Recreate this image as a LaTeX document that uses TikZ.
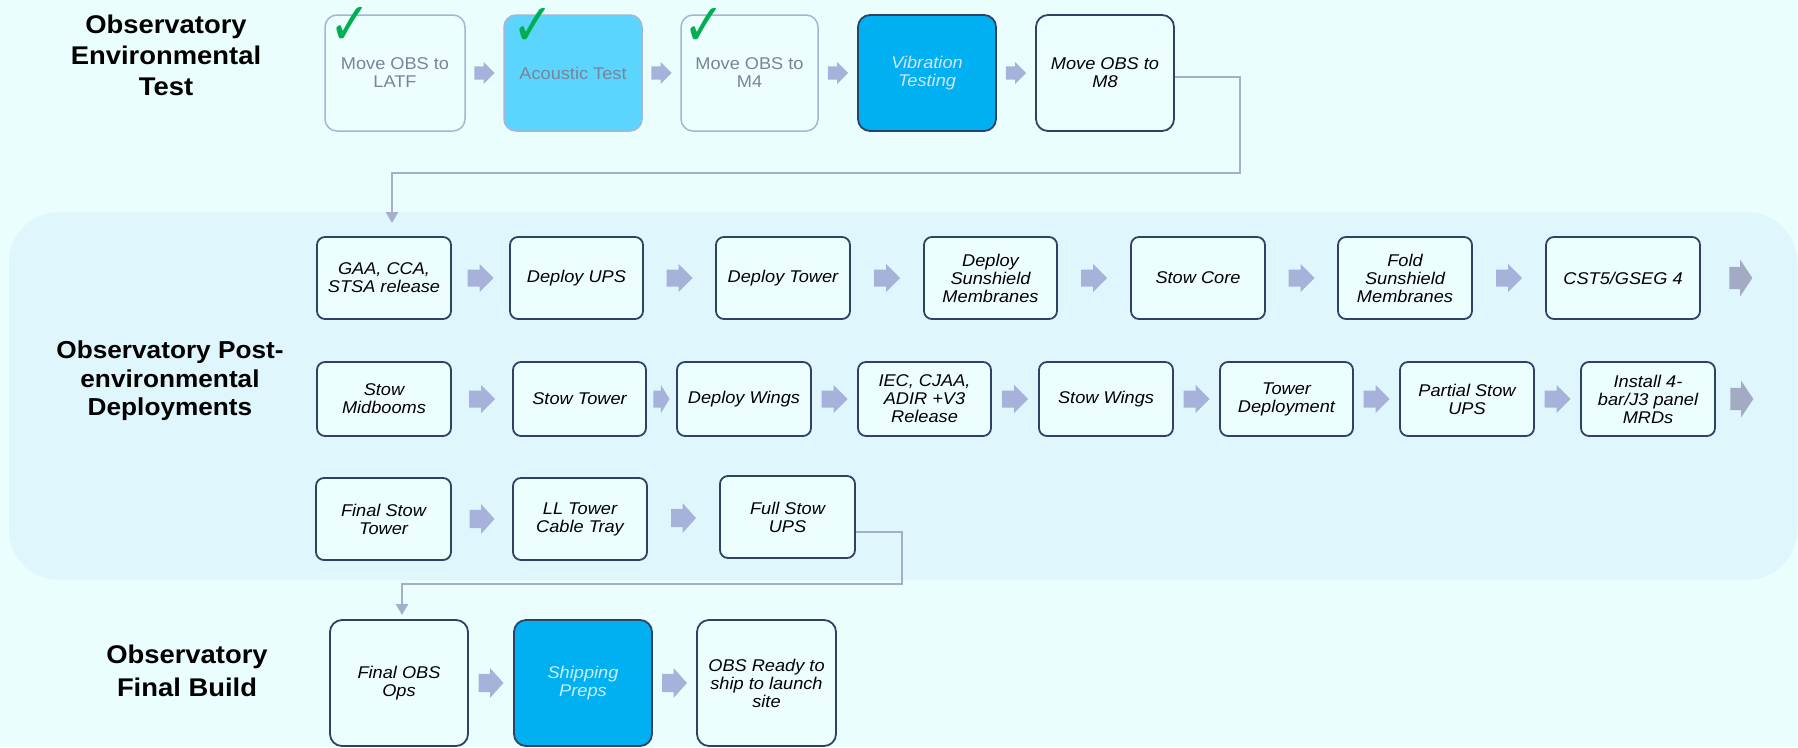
\documentclass[tikz,border=0pt]{standalone}
\usepackage{fontspec}
\setmainfont{Liberation Sans}[FakeStretch=1.07]
\newfontfamily\checkfont{DejaVu Sans}
\usetikzlibrary{arrows.meta,calc}
\definecolor{bgc}{HTML}{EBFEFE}
\definecolor{panelc}{HTML}{E0F6FD}
\definecolor{boxfill}{HTML}{EDFEFF}
\definecolor{darkb}{HTML}{2E4267}
\definecolor{lightb}{HTML}{A6B4D6}
\definecolor{acouc}{HTML}{5CD5FE}
\definecolor{vibc}{HTML}{00B0F0}
\definecolor{arrowc}{HTML}{A6B2D9}
\definecolor{arrowdk}{HTML}{A2AAC4}
\definecolor{connc}{HTML}{A3AFCB}
\definecolor{greyt}{HTML}{78849A}
\definecolor{vibt}{HTML}{D3E4F7}
\definecolor{shipt}{HTML}{CBEFFF}
\definecolor{checkc}{HTML}{00B050}
\newcommand\boxfont{\fontsize{17}{18}\selectfont}
\newcommand\mybox[6]{\node[#1, minimum width=#4pt, minimum height=#5pt] (#2) at (#3) {#6};}
\tikzset{
  box/.style={rectangle, rounded corners=8pt, draw=darkb, line width=1.8pt, fill=boxfill,
    align=center, font=\boxfont\itshape, inner sep=2pt, text=black},
  donebox/.style={rectangle, rounded corners=12pt, draw=lightb, line width=1.5pt, fill=boxfill,
    align=center, font=\boxfont, inner sep=2pt, text=greyt},
  title/.style={align=center, font=\fontsize{25.6}{31}\selectfont\bfseries, text=black, inner sep=0pt},
  conn/.style={draw=connc, line width=2.5pt, -{Triangle[width=12pt,length=11pt]}},
  chk/.style={font=\checkfont\fontsize{38}{38}\selectfont, text=checkc, inner sep=0pt,
    xscale=1.3, yscale=1.55, transform shape},
  barrow/.pic={\fill[arrowc] (-13,-8.5) -- (-1,-8.5) -- (-1,-14) -- (13,0) -- (-1,14) -- (-1,8.5) -- (-13,8.5) -- cycle;},
  barrowdk/.pic={\fill[arrowdk] (-13,-8.5) -- (-1,-8.5) -- (-1,-14) -- (13,0) -- (-1,14) -- (-1,8.5) -- (-13,8.5) -- cycle;}
}
\begin{document}
\begin{tikzpicture}[x=1pt,y=-1pt]
\fill[bgc] (0,0) rectangle (1798,747);
\useasboundingbox (0,0) rectangle (1798,747);
% panel
\fill[panelc, rounded corners=50pt] (9,212) rectangle (1797,580);

% titles
\node[title] (t1) at (166,55) {Observatory\\Environmental\\Test};
\node[title, font=\fontsize{24.5}{28.5}\selectfont\bfseries] (t2) at (170,381) {Observatory Post-\\environmental\\Deployments};
\node[title, font=\fontsize{25.6}{33}\selectfont\bfseries] (t3) at (187,671) {Observatory\\Final Build};

% top row
\mybox{donebox}{latf}{395,73}{140}{116}{Move OBS to\\LATF}
\mybox{donebox, fill=acouc}{acou}{573,73}{138}{116}{Acoustic Test}
\mybox{donebox}{mfour}{749.5,73}{137}{116}{Move OBS to\\M4}
\mybox{box, rounded corners=12pt, fill=vibc, text=vibt}{vib}{927,73}{138}{116}{Vibration\\Testing}
\mybox{box, rounded corners=12pt}{meight}{1105,73}{138}{116}{Move OBS to\\M8}
\node[chk] (ck1) at (350,26) {✓};
\node[chk] (ck2) at (533,27) {✓};
\node[chk] (ck3) at (704,27) {✓};
\pic[scale=0.78] at ($(latf.east)!0.5!(acou.west)$) {barrow};
\pic[scale=0.78] at ($(acou.east)!0.5!(mfour.west)$) {barrow};
\pic[scale=0.78] at ($(mfour.east)!0.5!(vib.west)$) {barrow};
\pic[scale=0.78] at ($(vib.east)!0.5!(meight.west)$) {barrow};

% row 1
\mybox{box}{gaa}{384,278}{134}{82}{GAA, CCA,\\STSA release}
\mybox{box}{ups}{576.5,278}{133}{82}{Deploy UPS}
\mybox{box}{dtower}{783,278}{134}{82}{Deploy Tower}
\mybox{box}{dsun}{990.5,278}{133}{82}{Deploy\\Sunshield\\Membranes}
\mybox{box}{score}{1198,278}{134}{82}{Stow Core}
\mybox{box}{fold}{1405,278}{134}{82}{Fold\\Sunshield\\Membranes}
\mybox{box}{cst}{1623,278}{154}{82}{CST5/GSEG 4}
\pic at ($(gaa.east)!0.5!(ups.west)$) {barrow};
\pic at ($(ups.east)!0.5!(dtower.west)$) {barrow};
\pic at ($(dtower.east)!0.5!(dsun.west)$) {barrow};
\pic at ($(dsun.east)!0.5!(score.west)$) {barrow};
\pic at ($(score.east)!0.5!(fold.west)$) {barrow};
\pic at ($(fold.east)!0.5!(cst.west)$) {barrow};
\pic[xscale=0.88, yscale=1.32] at ([xshift=40pt]cst.east) {barrowdk};

% row 2
\mybox{box}{midb}{384,399}{134}{74}{Stow\\Midbooms}
\mybox{box}{stower}{579.5,399}{133}{74}{Stow Tower}
\mybox{box}{dwings}{744,399}{134}{74}{Deploy Wings}
\mybox{box}{iec}{924.5,399}{133}{74}{IEC, CJAA,\\ADIR +V3\\Release}
\mybox{box}{swings}{1106,399}{134}{74}{Stow Wings}
\mybox{box}{tdep}{1286.5,399}{133}{74}{Tower\\Deployment}
\mybox{box}{pstow}{1467,399}{134}{74}{Partial Stow\\UPS}
\mybox{box}{inst}{1648,399}{134}{74}{Install 4-\\bar/J3 panel\\MRDs}
\pic at ($(midb.east)!0.5!(stower.west)$) {barrow};
\pic[xscale=0.62] at ($(stower.east)!0.5!(dwings.west)$) {barrow};
\pic at ($(dwings.east)!0.5!(iec.west)$) {barrow};
\pic at ($(iec.east)!0.5!(swings.west)$) {barrow};
\pic at ($(swings.east)!0.5!(tdep.west)$) {barrow};
\pic at ($(tdep.east)!0.5!(pstow.west)$) {barrow};
\pic at ($(pstow.east)!0.5!(inst.west)$) {barrow};
\pic[xscale=0.88, yscale=1.32] at ([xshift=26pt]inst.east) {barrowdk};

% row 3
\mybox{box}{fst}{383.5,519}{135}{82}{Final Stow\\Tower}
\mybox{box}{lltow}{580,519}{134}{82}{LL Tower\\Cable Tray}
\mybox{box}{fsu}{787.5,517}{135}{82}{Full Stow\\UPS}
\pic[xscale=0.96, yscale=1.07] at ($(fst.east)!0.5!(lltow.west)$) {barrow};
\pic[xscale=0.96, yscale=1.07] at ($(lltow.east)!0.5!(fsu.west)$) {barrow};

% row 4
\mybox{box, rounded corners=12pt}{fobs}{399,683}{138}{126}{Final OBS\\Ops}
\mybox{box, rounded corners=12pt, fill=vibc, text=shipt}{ship}{583,683}{138}{126}{Shipping\\Preps}
\mybox{box, rounded corners=12pt}{ready}{766.5,683}{139}{126}{OBS Ready to\\ship to launch\\site}
\pic[xscale=0.96, yscale=1.07] at ($(fobs.east)!0.5!(ship.west)$) {barrow};
\pic[xscale=0.96, yscale=1.07] at ($(ship.east)!0.5!(ready.west)$) {barrow};

% connectors
\coordinate (c1) at (1240,173);
\coordinate (tip1) at (392,223);
\coordinate (c2) at (902,584);
\coordinate (tip2) at (402,615);
\draw[conn] ([yshift=-4pt]meight.east) -| (c1) -| (tip1);
\draw[conn] ([yshift=-15pt]fsu.east) -| (c2) -| (tip2);
\end{tikzpicture}
\end{document}
